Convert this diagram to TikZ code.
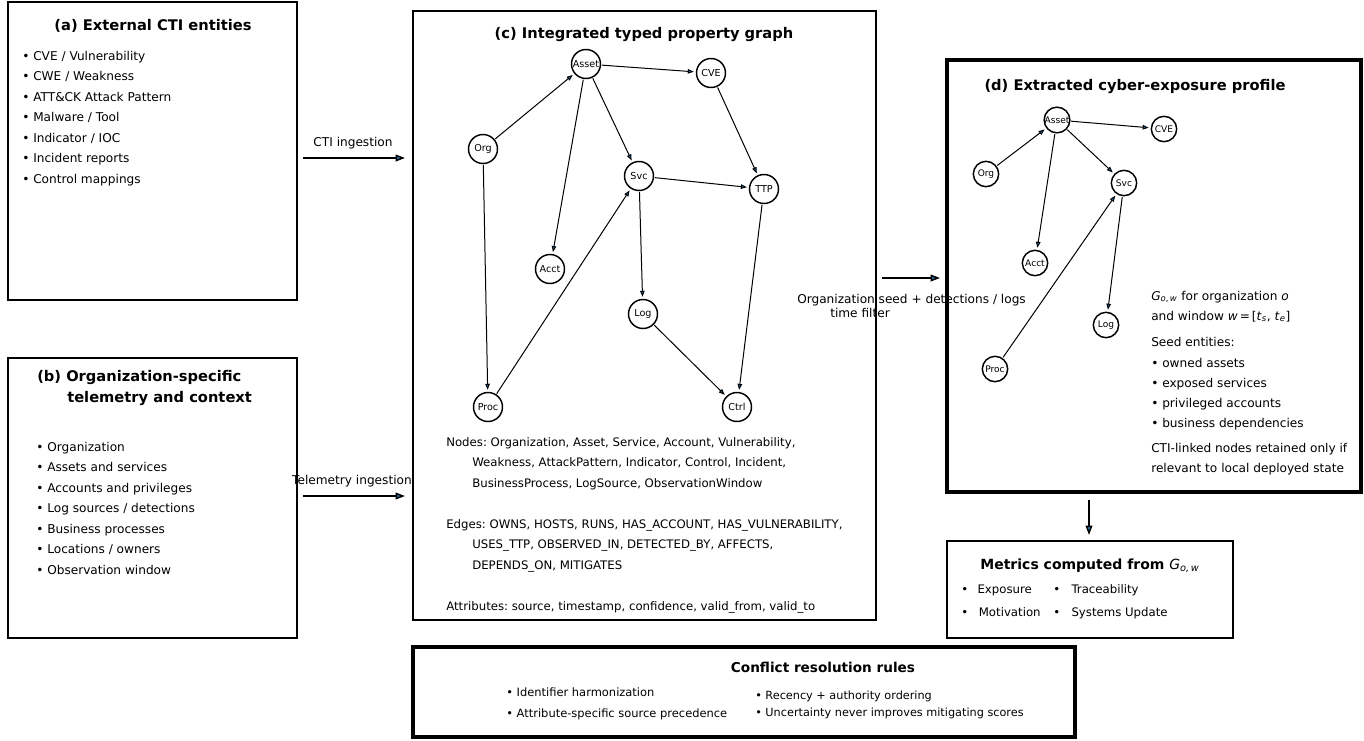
\documentclass[tikz,border=0pt]{standalone}
\usepackage{fontspec}
\setmainfont{DejaVu Sans}
\usetikzlibrary{arrows.meta,fit}
\definecolor{mplblue}{HTML}{1F77B4}
\frenchspacing
\tikzset{
  box/.style={draw, line width=1.5pt, inner sep=0pt},
  thickbox/.style={draw, line width=2.3pt, inner sep=0pt},
  ttl/.style={font=\fontsize{11}{13}\selectfont\bfseries, anchor=base, inner sep=0pt},
  txt/.style={font=\fontsize{9.1}{11}\selectfont, anchor=base west, inner sep=0pt},
  gtxt/.style={font=\fontsize{8.8}{10}\selectfont, anchor=base west, inner sep=0pt},
  smalltxt/.style={font=\fontsize{8.6}{10}\selectfont, anchor=base west, inner sep=0pt},
  gnode/.style={circle, draw, line width=1.1pt, minimum size=21.75pt, inner sep=0pt, font=\fontsize{7.2}{8}\selectfont},
  dnode/.style={gnode, minimum size=19pt, font=\fontsize{6.8}{8}\selectfont},
  gedge/.style={line width=0.75pt, -{Triangle[length=4.5pt,width=3.4pt,fill=mplblue]}, shorten >=1.5pt, shorten <=0.5pt},
  flow/.style={line width=1.1pt, -{Triangle[length=7pt,width=5pt,fill=mplblue]}},
}
\begin{document}
\begin{tikzpicture}[x=0.75pt, y=-0.75pt]
\useasboundingbox (0,0) rectangle (1364,740);

% ---------- (a) ----------
\node[ttl] (aT) at (153,30) {(a) External CTI entities};
\foreach \t [count=\i] in {CVE / Vulnerability, CWE / Weakness, ATT\&CK Attack Pattern, Malware / Tool, Indicator / IOC, Incident reports, Control mappings}{
  \node[txt] (a\i) at (22,{60+20.5*(\i-1)}) {• \t};
}

% ---------- (b) ----------
\node[ttl, anchor=base west] (bT1) at (37,381) {(b) Organization-specific};
\node[ttl, anchor=base west] (bT2) at (67,402) {telemetry and context};
\foreach \t [count=\i] in {Organization, Assets and services, Accounts and privileges, Log sources / detections, Business processes, Locations / owners, Observation window}{
  \node[txt] (b\i) at (36,{451+20.5*(\i-1)}) {• \t};
}

% ---------- ingestion labels ----------
\node[txt, anchor=base] (ctiL) at (353,146) {CTI ingestion};
\node[txt, anchor=base] (telL) at (352,484) {Telemetry ingestion};
\node[txt] (midL1) at (797,303) {Organization seed + detections / logs};
\node[txt] (midL2) at (830,317) {time filter};

% ---------- (c) ----------
\node[ttl] (cT) at (644,38) {(c) Integrated typed property graph};
\node[gnode] (cAsset) at (586,64) {Asset};
\node[gnode] (cCVE) at (711,73) {CVE};
\node[gnode] (cOrg) at (483,149) {Org};
\node[gnode] (cSvc) at (639,176) {Svc};
\node[gnode] (cTTP) at (764,189) {TTP};
\node[gnode] (cAcct) at (550,269) {Acct};
\node[gnode] (cLog) at (643,314) {Log};
\node[gnode] (cProc) at (488,407) {Proc};
\node[gnode] (cCtrl) at (737,407) {Ctrl};
\draw[gedge] (cOrg) -- (cAsset);
\draw[gedge] (cAsset) -- (cCVE);
\draw[gedge] (cAsset) -- (cSvc);
\draw[gedge] (cAsset) -- (cAcct);
\draw[gedge] (cCVE) -- (cTTP);
\draw[gedge] (cSvc) -- (cTTP);
\draw[gedge] (cSvc) -- (cLog);
\draw[gedge] (cOrg) -- (cProc);
\draw[gedge] (cProc) -- (cSvc);
\draw[gedge] (cLog) -- (cCtrl);
\draw[gedge] (cTTP) -- (cCtrl);

\node[gtxt] (cN1) at (446,446) {Nodes: Organization, Asset, Service, Account, Vulnerability,};
\node[gtxt] (cN2) at (472,466.5) {Weakness, AttackPattern, Indicator, Control, Incident,};
\node[gtxt] (cN3) at (472,487) {BusinessProcess, LogSource, ObservationWindow};
\node[gtxt] (cE1) at (446,528) {Edges: OWNS, HOSTS, RUNS, HAS\_ACCOUNT, HAS\_VULNERABILITY,};
\node[gtxt] (cE2) at (472,548.5) {USES\_TTP, OBSERVED\_IN, DETECTED\_BY, AFFECTS,};
\node[gtxt] (cE3) at (472,569) {DEPENDS\_ON, MITIGATES};
\node[gtxt] (cAt) at (446,610) {Attributes: source, timestamp, confidence, valid\_from, valid\_to};

% ---------- (d) ----------
\node[ttl] (dT) at (1135,90) {(d) Extracted cyber-exposure profile};
\node[dnode] (dAsset) at (1057,120) {Asset};
\node[dnode] (dCVE) at (1164,129) {CVE};
\node[dnode] (dOrg) at (986,174) {Org};
\node[dnode] (dSvc) at (1124,183) {Svc};
\node[dnode] (dAcct) at (1035,263) {Acct};
\node[dnode] (dLog) at (1106,325) {Log};
\node[dnode] (dProc) at (995,369) {Proc};
\draw[gedge] (dOrg) -- (dAsset);
\draw[gedge] (dAsset) -- (dCVE);
\draw[gedge] (dAsset) -- (dSvc);
\draw[gedge] (dAsset) -- (dAcct);
\draw[gedge] (dSvc) -- (dLog);
\draw[gedge] (dProc) -- (dSvc);

\node[txt] (dG1) at (1151,300) {\textit{G}\textsubscript{\textit{o},\,\textit{w}} for organization \textit{o}};
\node[txt] (dG2) at (1151,320) {and window \textit{w}\,=\,[\textit{t}\textsubscript{\textit{s}}, \textit{t}\textsubscript{\textit{e}}]};
\node[txt] (dS0) at (1151,346) {Seed entities:};
\node[txt] (dS1) at (1151,367) {• owned assets};
\node[txt] (dS2) at (1151,387) {• exposed services};
\node[txt] (dS3) at (1151,407) {• privileged accounts};
\node[txt] (dS4) at (1151,427) {• business dependencies};
\node[txt] (dC1) at (1151,452) {CTI-linked nodes retained only if};
\node[txt] (dC2) at (1151,472) {relevant to local deployed state};

% ---------- metrics ----------
\node[ttl, font=\fontsize{10.5}{12}\selectfont\bfseries] (mT) at (1090,569) {Metrics computed from {\normalfont\itshape G}\textsubscript{\normalfont\itshape o,\,w}};
\node[txt, font=\fontsize{8.8}{10}\selectfont] (m1) at (961,593) {•\hspace{7pt}Exposure};
\node[txt, font=\fontsize{8.8}{10}\selectfont] (m2) at (1053,593) {•\hspace{8.5pt}Traceability};
\node[txt, font=\fontsize{8.8}{10}\selectfont] (m3) at (961,616) {•\hspace{8pt}Motivation};
\node[txt, font=\fontsize{8.8}{10}\selectfont] (m4) at (1053,616) {•\hspace{8.5pt}Systems Update};

% ---------- conflict ----------
\node[ttl, font=\fontsize{10.2}{12}\selectfont\bfseries] (rT) at (823,672) {Conflict resolution rules};
\node[smalltxt] (r1) at (506,696) {• Identifier harmonization};
\node[smalltxt] (r2) at (506,717) {• Attribute-specific source precedence};
\node[smalltxt, font=\fontsize{8.45}{10}\selectfont] (r3) at (755,699) {• Recency + authority ordering};
\node[smalltxt, font=\fontsize{8.45}{10}\selectfont] (r4) at (755,716) {• Uncertainty never improves mitigating scores};

% ---------- boxes ----------
\node[box, fit={(8,2) (297,300)}] (boxA) {};
\node[box, fit={(8,358) (297,638)}] (boxB) {};
\node[box, fit={(413,11) (876,620)}] (boxC) {};
\node[thickbox, fit={(947,60) (1361,492)}] (boxD) {};
\node[box, fit={(947,541) (1233,638)}] (boxM) {};
\node[thickbox, fit={(413,647) (1075,737)}] (boxR) {};

% ---------- flow arrows ----------
\coordinate (ctiS) at (303,158);
\coordinate (ctiE) at (405,158);
\coordinate (telS) at (303,496);
\coordinate (telE) at (405,496);
\coordinate (midS) at (882,278);
\coordinate (midE) at (940,278);
\coordinate (downE) at (1089,535);
\draw[flow] (ctiS) -- (ctiE);
\draw[flow] (telS) -- (telE);
\draw[flow] (midS) -- (midE);
\draw[flow] ([yshift=-4.5pt]boxD.south -| downE) -- (downE);
\end{tikzpicture}
\end{document}
